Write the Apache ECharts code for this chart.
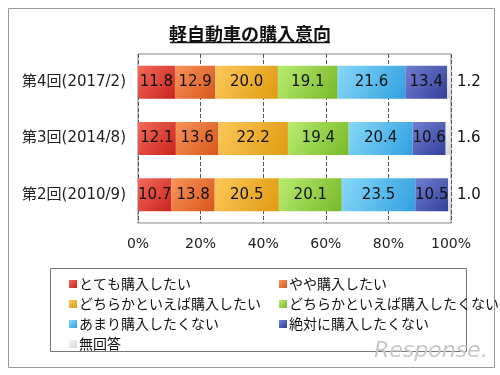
<!DOCTYPE html>
<html><head><meta charset="utf-8">
<script src="https://cdn.jsdelivr.net/npm/echarts@6/dist/echarts.min.js"></script>
<style>html,body{margin:0;padding:0;background:#fff}#c{width:500px;height:375px}</style>
</head><body><div id="c"></div>
<script>
const categories = ['第4回(2017/2)', '第3回(2014/8)', '第2回(2010/9)'];
const seriesNames = ['とても購入したい', 'やや購入したい', 'どちらかといえば購入したい', 'どちらかといえば購入したくない', 'あまり購入したくない', '絶対に購入したくない', '無回答'];
const veryWant = [11.8, 12.1, 10.7];
const somewhatWant = [12.9, 13.6, 13.8];
const ratherWant = [20.0, 22.2, 20.5];
const ratherNot = [19.1, 19.4, 20.1];
const notMuch = [21.6, 20.4, 23.5];
const never = [13.4, 10.6, 10.5];
const noAnswer = [1.2, 1.6, 1.0];
const xTicks = ['0%', '20%', '40%', '60%', '80%', '100%'];

const values = [veryWant, somewhatWant, ratherWant, ratherNot, notMuch, never, noAnswer];
const colors = [
  ['#f46a5a', '#c8231e'],
  ['#f8945a', '#d8561c'],
  ['#fcc85a', '#e09a10'],
  ['#b8ec70', '#78b828'],
  ['#88d8f8', '#30a0e0'],
  ['#7080d0', '#34409c'],
  ['#f4f4f4', '#d8d8d8']
];
const font = '"Noto Sans CJK JP", sans-serif';
const numFont = '"DejaVu Sans", "Noto Sans CJK JP", sans-serif';

const series = values.map((v, i) => ({
  name: seriesNames[i],
  type: 'bar',
  stack: 'all',
  barWidth: 33,
  data: v,
  itemStyle: {
    color: {
      type: 'linear', x: 0, y: 0, x2: 1, y2: 1,
      colorStops: [{offset: 0, color: colors[i][0]}, {offset: 1, color: colors[i][1]}]
    }
  },
  label: {
    show: true,
    position: i === 6 ? 'right' : 'inside',
    distance: 6,
    color: '#111',
    fontSize: 15,
    fontFamily: numFont,
    formatter: p => p.value.toFixed(1)
  }
}));

const legendCommon = {
  orient: 'vertical',
  itemWidth: 8,
  itemHeight: 8,
  itemGap: 0,
  icon: 'rect',
  textStyle: {fontSize: 14, lineHeight: 20, color: '#111', fontFamily: font, padding: [0, 0, 0, -3]},
  top: 269
};

const chart = echarts.init(document.getElementById('c'));
chart.setOption({
  animation: false,
  title: {
    text: '軽自動車の購入意向',
    left: 'center',
    top: 20,
    textStyle: {fontSize: 18, fontWeight: 'bold', color: '#111', fontFamily: font}
  },
  grid: {left: 138, right: 49, top: 54, bottom: 152, show: true, borderColor: '#888', borderWidth: 1},
  xAxis: {
    type: 'value', min: 0, max: 100, interval: 20,
    axisLabel: {formatter: (v) => xTicks[v / 20], fontSize: 14, color: '#222', fontFamily: numFont, margin: 14},
    axisLine: {show: false}, axisTick: {show: false},
    splitLine: {show: true, lineStyle: {type: 'dashed', color: '#555'}}
  },
  yAxis: {
    type: 'category', data: categories, inverse: true,
    axisLabel: {fontSize: 15, color: '#222', fontFamily: numFont, margin: 12},
    axisLine: {show: false}, axisTick: {show: false}
  },
  legend: [
    Object.assign({}, legendCommon, {left: 64, data: [seriesNames[0], seriesNames[2], seriesNames[4], seriesNames[6]]}),
    Object.assign({}, legendCommon, {left: 274, data: [seriesNames[1], seriesNames[3], seriesNames[5]]})
  ],
  graphic: [
    {type: 'rect', shape: {x: 8.5, y: 8.5, width: 486, height: 359}, style: {fill: 'none', stroke: '#999', lineWidth: 1}, silent: true},
    {type: 'line', shape: {x1: 170, y1: 42.5, x2: 330, y2: 42.5}, style: {stroke: '#111', lineWidth: 1.5}, silent: true},
    {type: 'rect', shape: {x: 50.5, y: 268.5, width: 416, height: 83}, style: {fill: 'none', stroke: '#777', lineWidth: 1}, silent: true},
    {type: 'text', left: 374, top: 340, style: {text: 'Response.', fontSize: 22, fontStyle: 'italic', fill: '#c8c8c8', fontFamily: 'DejaVu Sans'}, silent: true}
  ],
  series: series
});
</script></body></html>
